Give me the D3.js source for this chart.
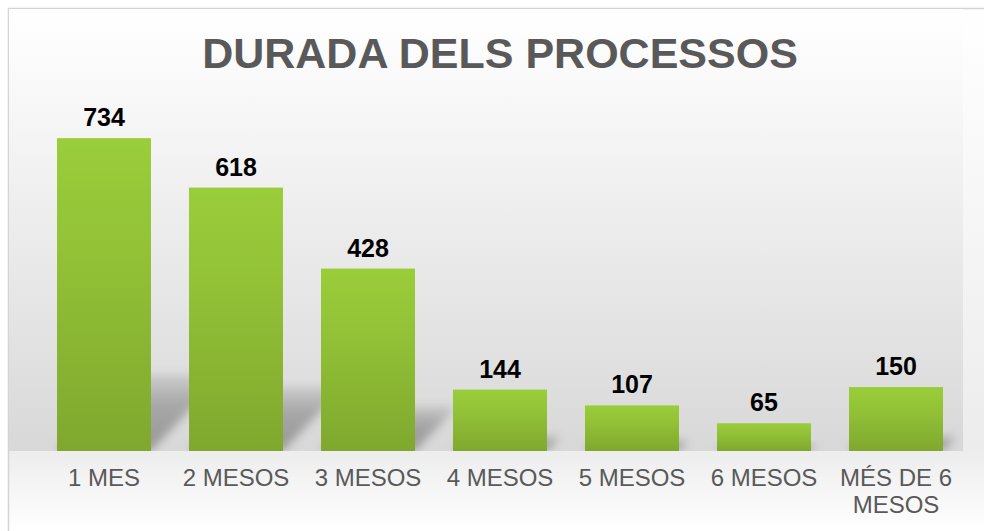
<!DOCTYPE html>
<html>
<head>
<meta charset="utf-8">
<script src="https://cdn.jsdelivr.net/npm/d3@7"></script>
<style>
  body { margin: 0; background: #fff; }
  svg { display: block; font-family: "Liberation Sans", Arial, sans-serif; }
</style>
</head>
<body>
<div id="chart"></div>
<script>
// dades del gràfic
var categories = ['1 MES', '2 MESOS', '3 MESOS', '4 MESOS', '5 MESOS', '6 MESOS', 'MÉS DE 6 MESOS'];
var values = [734, 618, 428, 144, 107, 65, 150];
var labelLines = [['1 MES'], ['2 MESOS'], ['3 MESOS'], ['4 MESOS'], ['5 MESOS'], ['6 MESOS'], ['MÉS DE 6', 'MESOS']];
var title = 'DURADA DELS PROCESSOS';

var width = 984;
var height = 531;
var baseY = 451;

var svg = d3.select('#chart')
    .append('svg')
        .attr('width', width)
        .attr('height', height);

var defs = svg.append('defs');

// fons de l'àrea del gràfic
var chartGrad = defs.append('linearGradient')
    .attr('id', 'chartGrad')
    .attr('gradientUnits', 'userSpaceOnUse')
    .attr('x1', 0).attr('y1', 8).attr('x2', 0).attr('y2', 531);
chartGrad.append('stop').attr('offset', 0).attr('stop-color', '#ffffff');
chartGrad.append('stop').attr('offset', 0.84).attr('stop-color', '#ececec');
chartGrad.append('stop').attr('offset', 1).attr('stop-color', '#ffffff');

var plotGrad = defs.append('linearGradient')
    .attr('id', 'plotGrad')
    .attr('gradientUnits', 'userSpaceOnUse')
    .attr('x1', 0).attr('y1', 8).attr('x2', 0).attr('y2', baseY);
plotGrad.append('stop').attr('offset', 0).attr('stop-color', '#ffffff');
plotGrad.append('stop').attr('offset', 0.2).attr('stop-color', '#f8f8f8');
plotGrad.append('stop').attr('offset', 1).attr('stop-color', '#d8d8d8');

var barGrad = defs.append('linearGradient')
    .attr('id', 'barGrad')
    .attr('x1', 0).attr('y1', 0).attr('x2', 0).attr('y2', 1);
barGrad.append('stop').attr('offset', 0).attr('stop-color', '#9acd3a');
barGrad.append('stop').attr('offset', 0.35).attr('stop-color', '#93c237');
barGrad.append('stop').attr('offset', 1).attr('stop-color', '#7fa82e');

// l'ombra s'esvaeix cap al fons
var shadowGrad = defs.append('linearGradient')
    .attr('id', 'shadowGrad')
    .attr('x1', 0).attr('y1', 1).attr('x2', 0).attr('y2', 0);
shadowGrad.append('stop').attr('offset', 0).attr('stop-color', '#000').attr('stop-opacity', 0.3);
shadowGrad.append('stop').attr('offset', 0.6).attr('stop-color', '#000').attr('stop-opacity', 0.24);
shadowGrad.append('stop').attr('offset', 1).attr('stop-color', '#000').attr('stop-opacity', 0.08);

var blur = defs.append('filter')
    .attr('id', 'blur')
    .attr('x', '-50%').attr('y', '-50%').attr('width', '200%').attr('height', '200%');
blur.append('feGaussianBlur').attr('stdDeviation', 5);

defs.append('clipPath').attr('id', 'plotClip')
    .append('rect')
        .attr('x', 9).attr('y', 8).attr('width', 954).attr('height', baseY - 8);

svg.append('rect')
    .attr('x', 8.5).attr('y', 8.5)
    .attr('width', width + 20).attr('height', height + 20)
    .attr('fill', 'url(#chartGrad)')
    .attr('stroke', '#d4d4d4')
    .attr('stroke-width', 1.5);

svg.append('rect')
    .attr('x', 9).attr('y', 9)
    .attr('width', 954).attr('height', baseY - 9)
    .attr('fill', 'url(#plotGrad)');

/** escales */
var x = d3.scaleBand()
    .domain(categories)
    .range([38, 962])
    .paddingInner(0.288)
    .paddingOuter(0.144);

var y = d3.scaleLinear()
    .domain([0, 800])
    .range([baseY, 110]);

// ombres
svg.append('g')
    .attr('clip-path', 'url(#plotClip)')
    .selectAll('path')
    .data(values)
    .enter().append('path')
        .attr('fill', 'url(#shadowGrad)')
        .attr('filter', 'url(#blur)')
        .attr('d', function(d, i) {
            var x0 = x(categories[i]);
            var x1 = x0 + x.bandwidth();
            var h = baseY - y(d);
            var dy = h * 0.245;
            var dx = dy * 0.95;
            return 'M' + x0 + ',' + baseY + 'L' + x1 + ',' + baseY +
                'L' + (x1 + dx) + ',' + (baseY - dy) + 'L' + (x0 + dx) + ',' + (baseY - dy) + 'Z';
        });

// barres
svg.append('g')
    .selectAll('rect')
    .data(values)
    .enter().append('rect')
        .attr('x', function(d, i) { return x(categories[i]); })
        .attr('y', function(d) { return y(d); })
        .attr('width', x.bandwidth())
        .attr('height', function(d) { return baseY - y(d); })
        .attr('fill', 'url(#barGrad)');

// etiquetes de valor
svg.append('g')
    .selectAll('text')
    .data(values)
    .enter().append('text')
        .attr('x', function(d, i) { return x(categories[i]) + x.bandwidth() / 2; })
        .attr('y', function(d) { return y(d) - 12; })
        .attr('text-anchor', 'middle')
        .attr('font-size', 25)
        .attr('font-weight', 'bold')
        .attr('fill', '#000')
        .text(function(d) { return d; });

// eix X
var xLabels = svg.append('g')
    .selectAll('text')
    .data(labelLines)
    .enter().append('text')
        .attr('x', function(d, i) { return x(categories[i]) + x.bandwidth() / 2; })
        .attr('y', 486)
        .attr('text-anchor', 'middle')
        .attr('font-size', 24)
        .attr('fill', '#595959');

xLabels.selectAll('tspan')
    .data(function(d) { return d; })
    .enter().append('tspan')
        .attr('x', function() { return d3.select(this.parentNode).attr('x'); })
        .attr('dy', function(d, i) { return i === 0 ? 0 : 27; })
        .text(function(d) { return d; });

// títol
svg.append('text')
    .attr('x', 500)
    .attr('y', 68)
    .attr('text-anchor', 'middle')
    .attr('font-size', 43)
    .attr('font-weight', 'bold')
    .attr('fill', '#595959')
    .text(title);
</script>
</body>
</html>
